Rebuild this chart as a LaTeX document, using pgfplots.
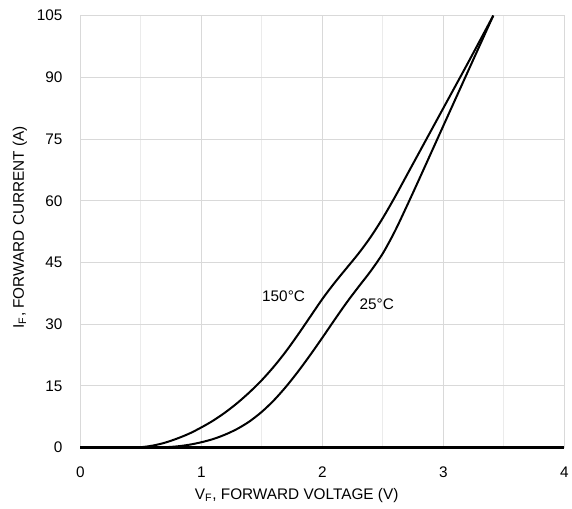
\documentclass[border=0pt]{standalone}
\usepackage{pgfplots}
\pgfplotsset{compat=1.18}
\usepackage{fontspec}
\setmainfont{Liberation Sans}

% forward characteristics
\pgfplotstableread{
V      I
0.00   0.0
0.40   0.0
0.50   0.1
0.60   0.5
0.70   1.2
0.80   2.2
0.90   3.4
1.00   4.9
1.10   6.6
1.20   8.6
1.30  10.9
1.40  13.5
1.50  16.4
1.60  19.7
1.70  23.4
1.80  27.5
1.90  31.8
2.00  36.1
2.10  40.0
2.20  43.6
2.30  47.2
2.40  51.2
2.50  55.8
2.60  60.9
2.70  66.3
2.80  71.7
3.00  82.5
3.20  93.3
3.413 105.0
}\hot

\pgfplotstableread{
V      I
0.00   0.0
0.60   0.0
0.70   0.1
0.80   0.3
0.90   0.7
1.00   1.3
1.10   2.1
1.20   3.2
1.30   4.6
1.40   6.4
1.50   8.7
1.60  11.5
1.70  14.8
1.80  18.5
1.90  22.5
2.00  26.7
2.10  31.0
2.20  35.2
2.30  39.1
2.40  42.9
2.50  47.2
2.60  52.6
2.70  58.8
2.80  65.2
3.00  78.2
3.20  91.2
3.413 105.0
}\cold

\begin{document}
\begin{tikzpicture}
\begin{axis}[
  scale only axis,
  width=363pt, height=324pt,
  xmin=0, xmax=4, ymin=0, ymax=105,
  clip=false,
  font=\fontsize{11.5}{13}\selectfont,
  xtick={0,1,2,3,4},
  minor xtick={0.5,1.5,2.5,3.5},
  ytick={0,15,30,45,60,75,90,105},
  grid=both,
  major grid style={draw=black!15, line width=0.75pt},
  minor grid style={draw=black!8, line width=0.75pt},
  axis line style={draw=black!15, line width=0.75pt},
  major tick length=0pt, minor tick length=0pt,
  /pgf/number format/assume math mode=true,
  xticklabel style={inner sep=0pt, yshift=-14.5pt},
  yticklabel style={inner sep=0pt, xshift=-13.2pt},
  every axis x label/.style={at={(rel axis cs:0.447,-0.111)}, anchor=center},
  every axis y label/.style={at={(rel axis cs:-0.125,0.51)}, rotate=90, anchor=center},
  xlabel={V\textsubscript{F}, FORWARD VOLTAGE (V)},
  ylabel={I\textsubscript{F}, FORWARD CURRENT (A)},
]
\path (rel axis cs:-0.1659,-0.1398) rectangle (rel axis cs:1.0159,1.0361);
\addplot [black, line width=2pt] coordinates {(0,0) (4,0)};
\addplot [black, line width=1.5pt, smooth] table [x=V, y=I] {\hot};
\addplot [black, line width=1.5pt, smooth] table [x=V, y=I] {\cold};
\node [font=\fontsize{11.5}{13}\selectfont] at (axis cs:1.68,36.9) {150°C};
\node [font=\fontsize{11.5}{13}\selectfont] at (axis cs:2.45,34.9) {25°C};
\end{axis}
\end{tikzpicture}
\end{document}
